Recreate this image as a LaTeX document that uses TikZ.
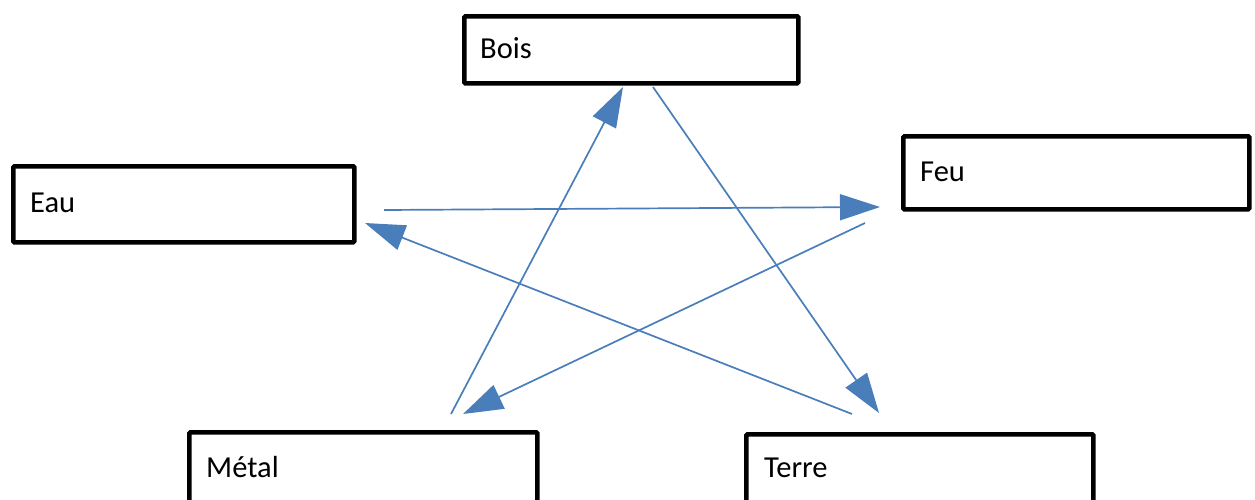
\documentclass[tikz,border=0pt]{standalone}
\usepackage{fontspec}
\setmainfont{Carlito}
\usetikzlibrary{arrows.meta}
\definecolor{arr}{HTML}{4A7EBB}
\begin{document}
\begin{tikzpicture}[x=1pt,y=-1pt,
 box/.style={draw=black,line width=4.6pt,rounded corners=1.2pt,fill=white,anchor=north west,inner sep=0pt},
 lbl/.style={anchor=base west,inner sep=0pt,font=\fontsize{30.5}{36}\selectfont},
 conn/.style={draw=arr,line width=1.7pt,-{Triangle[length=40pt,width=26pt]}}]
\useasboundingbox (0,0) rectangle (1255,499);
\clip (0,0) rectangle (1255,499);
\node[box,minimum width=334pt,minimum height=67pt] (bois) at (462,14) {};
\node[box,minimum width=341pt,minimum height=76pt] (eau) at (11,164) {};
\node[box,minimum width=346pt,minimum height=73pt] (feu) at (901,134) {};
\node[box,minimum width=348pt,minimum height=100pt] (metal) at (187,430) {};
\node[box,minimum width=347pt,minimum height=100pt] (terre) at (744,432) {};
\node[lbl] (tbois) at (480,58) {Bois};
\node[lbl] (teau) at (30,212) {Eau};
\node[lbl] (tfeu) at (920,181) {Feu};
\node[lbl] (tmetal) at (206,477) {Métal};
\node[lbl] (tterre) at (764,477) {Terre};
\coordinate (m1) at (451,414);
\coordinate (b1) at (623,87);
\coordinate (b2) at (653,87);
\coordinate (t1) at (879,413);
\coordinate (e1) at (384,210);
\coordinate (f1) at (880,207);
\coordinate (f2) at (865,223);
\coordinate (m2) at (463,414);
\coordinate (t2) at (852,414);
\coordinate (e2) at (365,223);
\draw[conn] (m1) -- (b1);
\draw[conn] (b2) -- (t1);
\draw[conn] (e1) -- (f1);
\draw[conn] (f2) -- (m2);
\draw[conn] (t2) -- (e2);
\end{tikzpicture}
\end{document}
